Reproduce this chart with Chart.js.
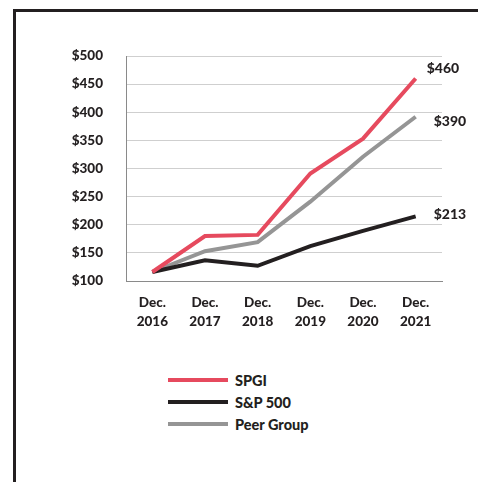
<!DOCTYPE html>
<html>
<head>
<meta charset="utf-8">
<script src="https://cdn.jsdelivr.net/npm/chart.js@4.4.1/dist/chart.umd.min.js"></script>
<style>
  html, body { margin: 0; padding: 0; background: #fff; }
  body { width: 478px; height: 482px; position: relative; overflow: hidden; font-family: Lato, "Open Sans", sans-serif; }
  #frame { position: absolute; left: 13px; top: 9px; width: 500px; height: 500px; border-top: 3px solid #231f20; border-left: 3px solid #231f20; box-sizing: border-box; }
  #wrap { position: absolute; left: 0; top: 0; width: 478px; height: 340px; }
  #legend { position: absolute; left: 168px; top: 369px; }
  .item { height: 22px; display: flex; align-items: center; font-weight: 900; font-size: 14.5px; color: #231f20; }
  .swatch { width: 60px; height: 4px; margin-right: 7px; }
</style>
</head>
<body>
<div id="frame"></div>
<div id="wrap"><canvas id="c" width="478" height="340"></canvas></div>
<div id="legend"></div>
<script>
const categories = [["Dec.", "2016"], ["Dec.", "2017"], ["Dec.", "2018"], ["Dec.", "2019"], ["Dec.", "2020"], ["Dec.", "2021"]];
const seriesNames = ["SPGI", "S&P 500", "Peer Group"];
const spgi = [116, 180, 182, 291, 353, 460];
const sp500 = [116, 137, 127, 162, 189, 215];
const peer = [116, 153, 169, 241, 321, 392];
const endLabels = ["$460", "$213", "$390"];
const yTicks = [100, 150, 200, 250, 300, 350, 400, 450, 500];

const colors = ["#e64a5e", "#231f20", "#959595"];
const FONT = "Lato, 'Open Sans', sans-serif";
const TXT = "#231f20";

const endLabelPlugin = {
  id: "endLabels",
  afterDatasetsDraw(chart) {
    const ctx = chart.ctx;
    const offsets = [[11, -10], [18, -2], [18, 5]];
    ctx.save();
    ctx.font = "900 14px " + FONT;
    ctx.fillStyle = TXT;
    ctx.textBaseline = "middle";
    ctx.textAlign = "left";
    chart.data.datasets.forEach((ds, i) => {
      const meta = chart.getDatasetMeta(i);
      const pt = meta.data[meta.data.length - 1];
      ctx.fillText(endLabels[i], pt.x + offsets[i][0], pt.y + offsets[i][1]);
    });
    ctx.restore();
  }
};

new Chart(document.getElementById("c"), {
  type: "line",
  data: {
    labels: categories,
    datasets: [
      { label: seriesNames[0], data: spgi, borderColor: colors[0], backgroundColor: colors[0] },
      { label: seriesNames[1], data: sp500, borderColor: colors[1], backgroundColor: colors[1] },
      { label: seriesNames[2], data: peer, borderColor: colors[2], backgroundColor: colors[2] }
    ].map(d => Object.assign(d, { borderWidth: 4, pointRadius: 0, tension: 0, fill: false, borderJoinStyle: "miter" }))
  },
  options: {
    responsive: false,
    animation: false,
    layout: { padding: { top: 56, right: 36, left: 0, bottom: 0 } },
    plugins: { legend: { display: false }, tooltip: { enabled: false } },
    scales: {
      x: {
        offset: true,
        grid: { display: false, drawTicks: false },
        border: { display: true, color: "#8a8a8a", width: 1 },
        ticks: { color: TXT, font: { family: FONT, size: 13.5, weight: "900", lineHeight: 1.42 }, padding: 12, maxRotation: 0, autoSkip: false },
        afterFit(s) { s.height = 59; }
      },
      y: {
        min: 100, max: 500,
        afterBuildTicks(s) { s.ticks = yTicks.map(v => ({ value: v })); },
        grid: { color: "#cfcfcf", lineWidth: 1, drawTicks: false },
        border: { display: true, color: "#8a8a8a", width: 1 },
        ticks: { color: TXT, font: { family: FONT, size: 13.5, weight: "900" }, padding: 23, callback: v => "$" + v },
        afterFit(s) { s.width = 126; }
      }
    }
  },
  plugins: [endLabelPlugin]
});

const legend = document.getElementById("legend");
seriesNames.forEach((n, i) => {
  const row = document.createElement("div");
  row.className = "item";
  const sw = document.createElement("span");
  sw.className = "swatch";
  sw.style.background = colors[i];
  const t = document.createElement("span");
  t.textContent = n;
  row.appendChild(sw); row.appendChild(t);
  legend.appendChild(row);
});
</script>
</body>
</html>
